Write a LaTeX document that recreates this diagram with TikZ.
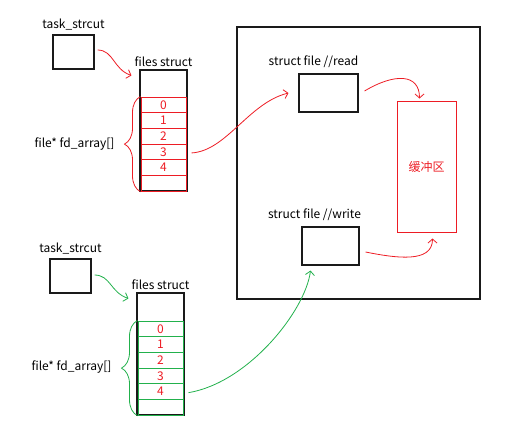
\documentclass[tikz,border=0pt]{standalone}
\usepackage{fontspec}
\setmainfont{Noto Sans CJK SC}
\usepackage{xcolor}
\usepackage{tikz}
\usetikzlibrary{arrows.meta,calc,decorations.pathreplacing,positioning}
\definecolor{Ink}{HTML}{1A1A1A}
\definecolor{PenRed}{HTML}{ED1C24}
\definecolor{PenGreen}{HTML}{22B14C}

\begin{document}
\begin{tikzpicture}[x=1pt,y=-1pt,>={Straight Barb[length=4pt,width=9pt]},
  font=\fontsize{12}{14}\selectfont,
  box/.style={draw=Ink,line width=1.1pt,inner sep=0pt},
  cell/.style={draw=#1,line width=1pt,minimum width=45pt,minimum height=15.7pt,inner sep=0pt,text=PenRed},
  pen/.style={#1,line width=0.8pt,->}]
  \useasboundingbox (0,0) rectangle (511,437);
  % kernel side
  \node[box,minimum width=243pt,minimum height=272pt] (kernel) at (358.5,163) {};
  \node[box,minimum width=59pt,minimum height=38pt] (rdfile) at (328.5,93) {};
  \node[above=2pt of rdfile,xshift=-15pt] (rdlabel) {struct file //read};
  \node[box,minimum width=57pt,minimum height=38pt] (wrfile) at (330.5,246) {};
  \node[above=2pt of wrfile,xshift=-16pt] (wrlabel) {struct file //write};
  \node[draw=PenRed,line width=1pt,minimum width=59pt,minimum height=131pt,text=PenRed] (buf) at (426.5,166.5) {缓冲区};
  % first process
  \node[box,minimum width=41pt,minimum height=34pt] (task1) at (73.5,52) {};
  \node[above=1pt of task1] (tlabel1) {task\_strcut};
  \node[box,minimum width=47pt,minimum height=121pt] (files1) at (163.5,130.5) {};
  \node[above=-1pt of files1] (flabel1) {files struct};
  \foreach \i/\t in {0/0,1/1,2/2,3/3,4/4,5/{}}
  {
    \node[cell=PenRed] (rc\i) at (163.5,{104.85+15.7*\i}) {\t};
  }
  \draw[PenRed,line width=0.8pt,decorate,decoration={brace,amplitude=16pt}]
    (rc5.south west) -- (rc0.north west);
  \coordinate (tip1) at (121,144);
  \node[left=3pt of tip1] (fd1) {file* fd\_array[]};
  % second process
  \node[box,minimum width=41pt,minimum height=34pt] (task2) at (70.5,276) {};
  \node[above=1pt of task2] (tlabel2) {task\_strcut};
  \node[box,minimum width=47pt,minimum height=122pt] (files2) at (160.5,354) {};
  \node[above=-1pt of files2] (flabel2) {files struct};
  \foreach \i/\t in {0/0,1/1,2/2,3/3,4/4,5/{}}
  {
    \node[cell=PenGreen] (gc\i) at (160.5,{328.85+15.7*\i}) {\t};
  }
  \draw[PenGreen,line width=0.8pt,decorate,decoration={brace,amplitude=16pt}]
    (gc5.south west) -- (gc0.north west);
  \coordinate (tip2) at (118,367);
  \node[left=3pt of tip2] (fd2) {file* fd\_array[]};
  % pointers
  \draw[pen=PenRed] ($(task1.east)+(3,-2)$) .. controls +(16,0) and +(-18,-6) .. ($(files1.north west)+(-8,6)$);
  \draw[pen=PenRed] ($(rc3.east)+(5,1)$) .. controls +(35,-2) and +(-40,10) .. ($(rdfile.west)+(-10,0)$);
  \draw[pen=PenRed] ($(rdfile.east)+(6,-2)$) .. controls +(30,-18) and +(0,-25) .. ($(buf.north)+(-7,-2)$);
  \draw[pen=PenRed] ($(wrfile.east)+(6,6)$) .. controls +(30,6) and +(0,25) .. ($(buf.south)+(6,6)$);
  \draw[pen=PenGreen] ($(task2.east)+(3,-1)$) .. controls +(16,0) and +(-18,-6) .. ($(files2.north west)+(-8,6)$);
  \draw[pen=PenGreen] ($(gc4.east)+(5,1)$) .. controls +(60,-10) and +(-5,40) .. ($(wrfile.south)+(-20,5)$);
\end{tikzpicture}
\end{document}
